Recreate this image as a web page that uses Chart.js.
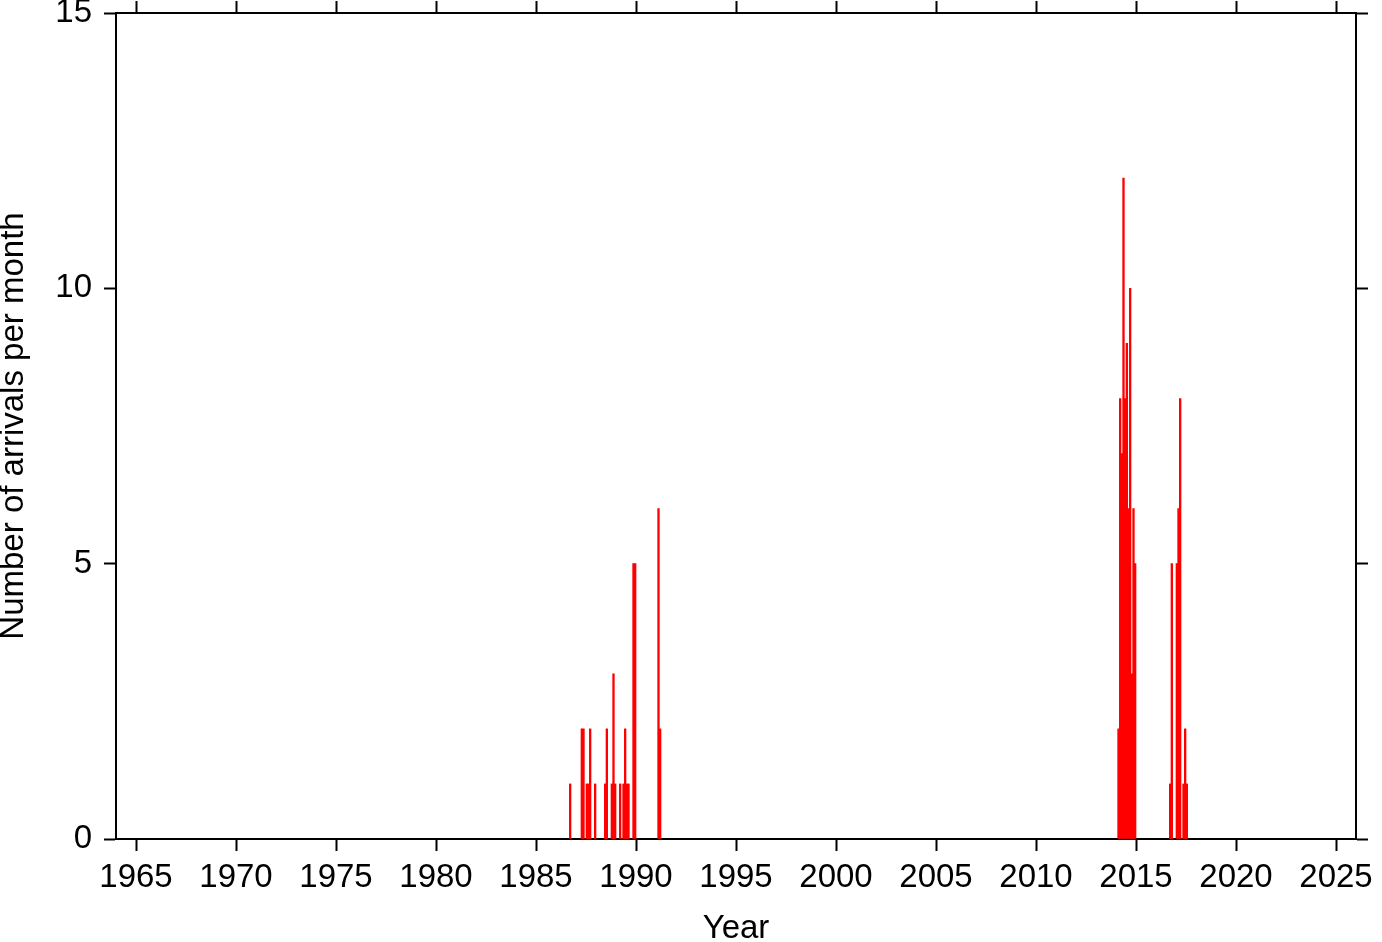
<!DOCTYPE html>
<html>
<head>
<meta charset="utf-8">
<script src="https://cdn.jsdelivr.net/npm/chart.js@4/dist/chart.umd.min.js"></script>
<style>
  html, body { margin: 0; padding: 0; background: #fff; }
  #wrap { width: 1382px; height: 942px; }
</style>
</head>
<body>
<div id="wrap"><canvas id="out" width="1382" height="942"></canvas></div>
<script>
// monthly arrival counts (only months with arrivals)
const months = [
  "1986-09", "1987-04", "1987-05", "1987-07", "1987-08", "1987-09", "1987-12",
  "1988-06", "1988-07", "1988-10", "1988-11", "1988-12",
  "1989-03", "1989-05", "1989-06", "1989-07", "1989-08", "1989-11", "1989-12",
  "1991-02", "1991-03",
  "2014-02", "2014-03", "2014-04", "2014-05", "2014-06", "2014-07",
  "2014-08", "2014-09", "2014-10", "2014-11", "2014-12",
  "2016-09", "2016-10", "2017-01", "2017-02", "2017-03",
  "2017-05", "2017-06", "2017-07"
];
const arrivals = [
  1, 2, 2, 1, 1, 2, 1,
  1, 2, 1, 3, 1,
  1, 1, 2, 1, 1, 5, 5,
  6, 2,
  2, 8, 7, 12, 8, 9,
  6, 10, 3, 6, 5,
  1, 5, 5, 6, 8,
  1, 2, 1
];
const yearTicks = [1965, 1970, 1975, 1980, 1985, 1990, 1995, 2000, 2005, 2010, 2015, 2020, 2025];
const countTicks = [0, 5, 10, 15];

// month string -> decimal year at the middle of the month
function monthToYear(s) {
  const parts = s.split("-");
  return Number(parts[0]) + (Number(parts[1]) - 1) / 12 + 1 / 24;
}

const points = months.map((m, i) => ({ x: monthToYear(m), y: arrivals[i] }));

const fontFamily = "'Liberation Sans', Arial, Helvetica, sans-serif";
const labelFont = { family: fontFamily, size: 33 };

function tickGrid() {
  return {
    drawOnChartArea: false,
    drawTicks: true,
    tickLength: 12,
    tickWidth: 2,
    tickColor: "#000",
    offset: false
  };
}
const frame = { display: true, color: "#000", width: 2 };

// fixed box sizes so the plot frame lands where the reference has it
function fixBox(w, h) {
  return s => {
    if (w !== null) s.width = w;
    if (h !== null) s.height = h;
    s.paddingTop = 0;
    s.paddingBottom = 0;
    s.paddingLeft = 0;
    s.paddingRight = 0;
  };
}

const chartConfig = {
  type: "bar",
  data: {
    datasets: [
      {
        data: points,
        backgroundColor: "rgb(255, 0, 0)",
        borderWidth: 0,
        barPercentage: 1,
        categoryPercentage: 1,
        xAxisID: "x",
        yAxisID: "y"
      }
    ]
  },
  options: {
    responsive: false,
    animation: false,
    layout: { padding: 0 },
    plugins: { legend: { display: false }, tooltip: { enabled: false } },
    scales: {
      x: {
        type: "linear",
        position: "bottom",
        min: 1964,
        max: 2026,
        offset: false,
        grid: tickGrid(),
        border: frame,
        ticks: {
          color: "#000",
          font: labelFont,
          padding: 7,
          maxRotation: 0,
          autoSkip: false,
          callback: v => String(v)
        },
        title: {
          display: true,
          text: "Year",
          color: "#000",
          font: { family: fontFamily, size: 33, lineHeight: 0.8 },
          padding: 0
        },
        afterBuildTicks: s => { s.ticks = yearTicks.map(v => ({ value: v })); },
        afterFit: fixBox(null, 103)
      },
      xTop: {
        type: "linear",
        position: "top",
        min: 1964,
        max: 2026,
        offset: false,
        grid: tickGrid(),
        border: frame,
        ticks: { display: false },
        afterBuildTicks: s => { s.ticks = yearTicks.map(v => ({ value: v })); },
        afterFit: fixBox(null, 13)
      },
      y: {
        type: "linear",
        position: "left",
        min: 0,
        max: 15,
        grid: tickGrid(),
        border: frame,
        ticks: {
          color: "#000",
          font: labelFont,
          padding: 12,
          callback: v => String(v)
        },
        title: {
          display: true,
          text: "Number of arrivals per month",
          color: "#000",
          font: { family: fontFamily, size: 33, lineHeight: 0.85 },
          padding: 0
        },
        afterBuildTicks: s => { s.ticks = countTicks.map(v => ({ value: v })); },
        afterFit: fixBox(116, null)
      },
      yRight: {
        type: "linear",
        position: "right",
        min: 0,
        max: 15,
        grid: tickGrid(),
        border: frame,
        ticks: { display: false },
        afterBuildTicks: s => { s.ticks = countTicks.map(v => ({ value: v })); },
        afterFit: fixBox(26, null)
      }
    }
  }
};

const canvasCtx = document.getElementById("out").getContext("2d");
window.chart = new Chart(canvasCtx, chartConfig);
</script>
</body>
</html>
